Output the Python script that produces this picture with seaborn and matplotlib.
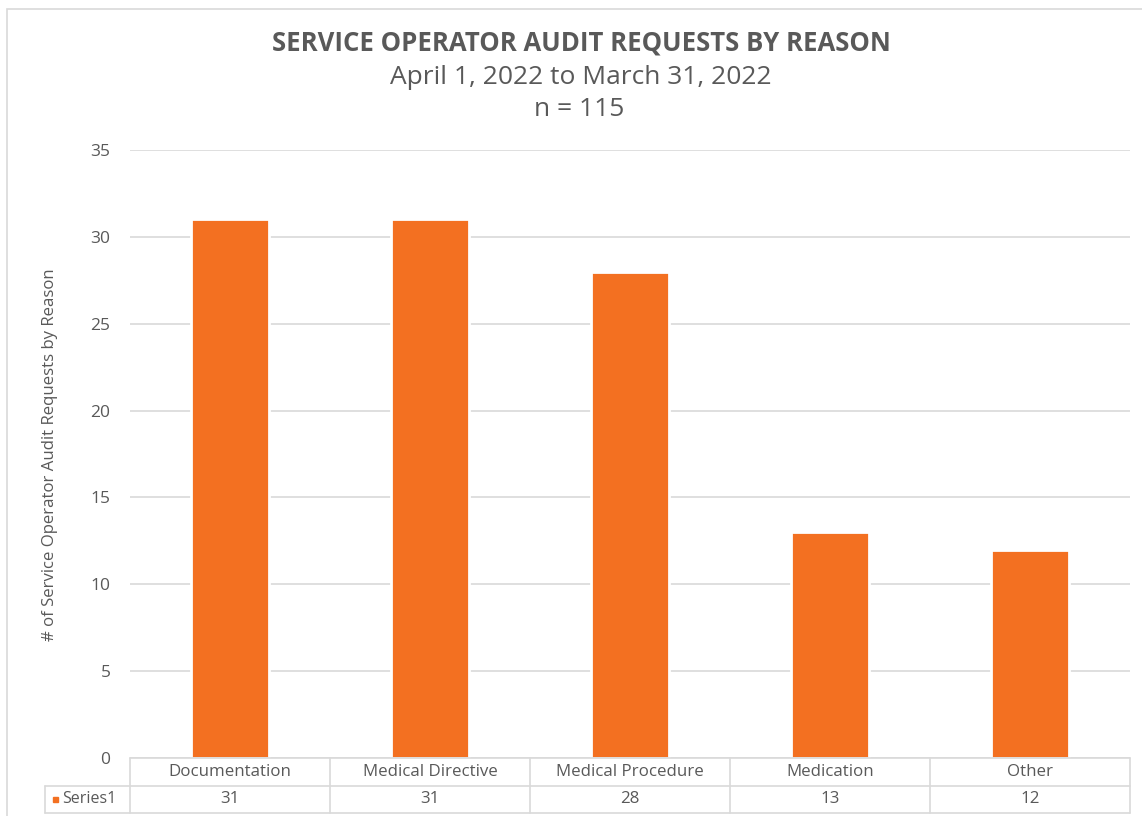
import numpy as np
import pandas as pd
import matplotlib
matplotlib.use("Agg")
import matplotlib.pyplot as plt
import matplotlib.patches as mpatches
import seaborn as sns

# ── Data ──────────────────────────────────────────────────────────────────────
reasons = ["Documentation", "Medical Directive", "Medical Procedure", "Medication", "Other"]
counts = [31, 31, 28, 13, 12]
series_name = "Series1"
y_ticks = [0, 5, 10, 15, 20, 25, 30, 35]

ORANGE = "#F37021"
GRID = "#D9D9D9"
TEXT = "#595959"

sns.set_theme(style="white")
plt.rcParams["font.family"] = ["Open Sans", "DejaVu Sans"]

W, H = 1142, 816
fig = plt.figure(figsize=(W / 100, H / 100), dpi=100)
fig.patch.set_facecolor("white")

def fx(px): return px / W
def fy(py): return 1 - py / H

# outer chart border
fig.add_artist(mpatches.Rectangle((fx(7), fy(830)), fx(1150) - fx(7), fy(9) - fy(830),
                                  transform=fig.transFigure, fill=False,
                                  edgecolor=GRID, linewidth=1.2))

# ── Main bar axes ─────────────────────────────────────────────────────────────
left, right, top, bottom = 130, 1130, 150, 758
ax = fig.add_axes([fx(left), fy(bottom), fx(right) - fx(left), fy(top) - fy(bottom)])
df = pd.DataFrame({"reason": reasons, "count": counts})
sns.barplot(data=df, x="reason", y="count", color=ORANGE, saturation=1,
            width=0.39, edgecolor="white", linewidth=2, ax=ax, zorder=3)
ax.set_xlim(-0.5, len(reasons) - 0.5)
ax.set_ylim(0, 35)
ax.set_yticks(y_ticks)
ax.set_yticklabels([str(t) for t in y_ticks], color=TEXT, fontsize=12.5)
ax.tick_params(axis="y", length=0, pad=14)
ax.set_xticks([])
ax.set_xlabel("")
ax.set_ylabel("")
for s in ax.spines.values():
    s.set_visible(False)
ax.yaxis.grid(True, color=GRID, linewidth=1.2, zorder=0)
ax.set_axisbelow(True)

fig.text(fx(50), fy(455), "# of Service Operator Audit Requests by Reason",
         rotation=90, ha="center", va="center", color=TEXT, fontsize=12.1)

# ── Data table below the plot ─────────────────────────────────────────────────
tleft, tbottom = 45, 813
tax = fig.add_axes([fx(tleft), fy(tbottom), fx(right) - fx(tleft), fy(bottom) - fy(tbottom)])
n = len(reasons)
lab_w = (left - tleft) / 200
tax.set_xlim(-0.5 - lab_w, n - 0.5)
tax.set_ylim(0, 2)
tax.axis("off")
lw = 1.2
# horizontal lines
tax.plot([-0.5, n - 0.5], [2, 2], color=GRID, lw=lw, clip_on=False)
tax.plot([-0.5 - lab_w, n - 0.5], [1, 1], color=GRID, lw=lw, clip_on=False)
tax.plot([-0.5 - lab_w, n - 0.5], [0, 0], color=GRID, lw=lw, clip_on=False)
# vertical lines
tax.plot([-0.5 - lab_w, -0.5 - lab_w], [0, 1], color=GRID, lw=lw, clip_on=False)
for i in range(n + 1):
    tax.plot([i - 0.5, i - 0.5], [0, 2], color=GRID, lw=lw, clip_on=False)
for i, (r, c) in enumerate(zip(reasons, counts)):
    tax.text(i, 1.5, r, ha="center", va="center", color=TEXT, fontsize=12.2)
    tax.text(i, 0.5, str(c), ha="center", va="center", color=TEXT, fontsize=12.2)
tax.add_patch(mpatches.Rectangle((-0.5 - lab_w + 0.04, 0.40), 0.025, 0.2,
                                 color=ORANGE, clip_on=False))
tax.text(-0.5 - lab_w + 0.085, 0.5, series_name, ha="left", va="center",
         color=TEXT, fontsize=11.5)

# ── Titles ────────────────────────────────────────────────────────────────────
fig.text(fx(581), fy(43), "SERVICE OPERATOR AUDIT REQUESTS BY REASON",
         ha="center", va="center", color=TEXT, fontsize=18.5, fontweight="bold")
fig.text(fx(581), fy(78), "April 1, 2022 to March 31, 2022",
         ha="center", va="center", color=TEXT, fontsize=19)
fig.text(fx(579), fy(110), "n = 115",
         ha="center", va="center", color=TEXT, fontsize=19)

fig.savefig("out.png", dpi=100, facecolor="white")
